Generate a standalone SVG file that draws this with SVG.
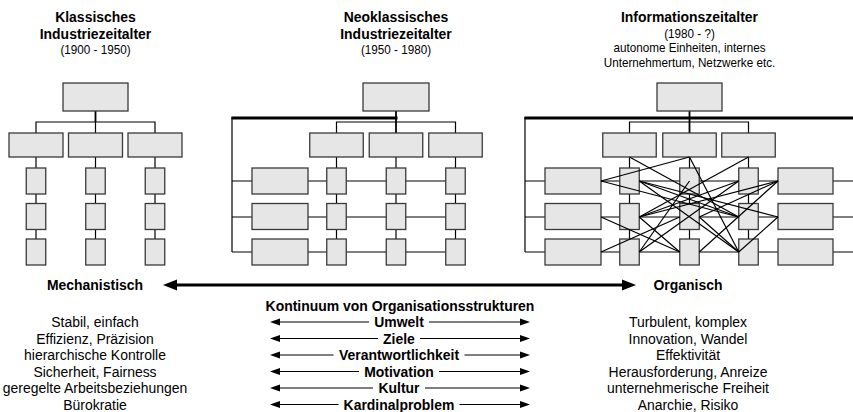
<svg xmlns="http://www.w3.org/2000/svg" width="853" height="412" viewBox="0 0 853 412">
  <style>
    .bx { fill: #e6e6e6; stroke: #3a3a3a; stroke-width: 1.3; }
    .ln { fill: none; stroke: #000; stroke-width: 1.2; }
    .mid { stroke-width: 1.8; }
    .thk { stroke-width: 3; }
    .t { font-family: "Liberation Sans", Arial, sans-serif; text-anchor: middle; fill: #000; }
    .b { font-weight: bold; font-size: 15.5px; }
    .r { font-size: 15.5px; }
    .s { font-size: 13px; }
    .ah { fill: #000; }
  </style>

  <!-- orthogonal connectors (drawn beneath the boxes) -->
  <g id="connectors">
    <!-- classic hierarchy -->
    <path class="ln mid" d="M95.5,111 V122"/>
    <path class="ln" d="M36,133 V122 H155 V133 M95.5,122 V133"/>
    <path class="ln" d="M36,157 V239 M95.5,157 V239 M155,157 V239"/>
    <!-- neoclassic matrix -->
    <path class="ln thk" d="M231.5,118 H397.5"/>
    <path class="ln" d="M232,117 V252"/>
    <path class="ln mid" d="M396,111 V133"/>
    <path class="ln" d="M336.5,133 V122 H455.5 V133"/>
    <path class="ln" d="M336.5,157 V252 M396,157 V252 M455.5,157 V252"/>
    <path class="ln" d="M232,181 H455.5 M232,217 H455.5 M232,252 H455.5"/>
    <!-- network organisation -->
    <path class="ln thk" d="M524.5,118 H853"/>
    <path class="ln" d="M525,117 V252"/>
    <path class="ln mid" d="M689.5,111 V133"/>
    <path class="ln" d="M629.5,133 V122 H748.5 V133"/>
    <path class="ln" d="M629.5,157 V252 M689.5,157 V252 M748.5,157 V252"/>
    <path class="ln" d="M525,181 H853 M525,217 H853 M525,252 H853"/>
  </g>

  <!-- classic hierarchy nodes -->
  <g id="k-top"><rect class="bx" x="63" y="83" width="65" height="28"/></g>
  <g id="k-m1"><rect class="bx" x="9" y="133" width="54" height="24"/></g>
  <g id="k-m2"><rect class="bx" x="68.5" y="133" width="54" height="24"/></g>
  <g id="k-m3"><rect class="bx" x="128" y="133" width="54" height="24"/></g>
  <g id="k-a1"><rect class="bx" x="26.25" y="168" width="19.5" height="26"/></g>
  <g id="k-a2"><rect class="bx" x="26.25" y="203.5" width="19.5" height="26"/></g>
  <g id="k-a3"><rect class="bx" x="26.25" y="239" width="19.5" height="26"/></g>
  <g id="k-b1"><rect class="bx" x="85.75" y="168" width="19.5" height="26"/></g>
  <g id="k-b2"><rect class="bx" x="85.75" y="203.5" width="19.5" height="26"/></g>
  <g id="k-b3"><rect class="bx" x="85.75" y="239" width="19.5" height="26"/></g>
  <g id="k-c1"><rect class="bx" x="145.25" y="168" width="19.5" height="26"/></g>
  <g id="k-c2"><rect class="bx" x="145.25" y="203.5" width="19.5" height="26"/></g>
  <g id="k-c3"><rect class="bx" x="145.25" y="239" width="19.5" height="26"/></g>

  <!-- neoclassic matrix nodes -->
  <g id="n-top"><rect class="bx" x="363" y="83" width="66" height="28"/></g>
  <g id="n-m1"><rect class="bx" x="309.75" y="133" width="53.5" height="24"/></g>
  <g id="n-m2"><rect class="bx" x="369.25" y="133" width="53.5" height="24"/></g>
  <g id="n-m3"><rect class="bx" x="428.75" y="133" width="53.5" height="24"/></g>
  <g id="n-w1"><rect class="bx" x="252" y="168" width="56" height="26"/></g>
  <g id="n-w2"><rect class="bx" x="252" y="203.5" width="56" height="26"/></g>
  <g id="n-w3"><rect class="bx" x="252" y="239" width="56" height="26"/></g>
  <g id="n-a1"><rect class="bx" x="326.75" y="168" width="19.5" height="26"/></g>
  <g id="n-a2"><rect class="bx" x="326.75" y="203.5" width="19.5" height="26"/></g>
  <g id="n-a3"><rect class="bx" x="326.75" y="239" width="19.5" height="26"/></g>
  <g id="n-b1"><rect class="bx" x="386.25" y="168" width="19.5" height="26"/></g>
  <g id="n-b2"><rect class="bx" x="386.25" y="203.5" width="19.5" height="26"/></g>
  <g id="n-b3"><rect class="bx" x="386.25" y="239" width="19.5" height="26"/></g>
  <g id="n-c1"><rect class="bx" x="445.75" y="168" width="19.5" height="26"/></g>
  <g id="n-c2"><rect class="bx" x="445.75" y="203.5" width="19.5" height="26"/></g>
  <g id="n-c3"><rect class="bx" x="445.75" y="239" width="19.5" height="26"/></g>

  <!-- network organisation nodes -->
  <g id="i-top"><rect class="bx" x="657" y="83" width="65" height="28"/></g>
  <g id="i-m1"><rect class="bx" x="602.75" y="133" width="53.5" height="24"/></g>
  <g id="i-m2"><rect class="bx" x="662.75" y="133" width="53.5" height="24"/></g>
  <g id="i-m3"><rect class="bx" x="721.75" y="133" width="53.5" height="24"/></g>
  <g id="i-wl1"><rect class="bx" x="545" y="168" width="56" height="26"/></g>
  <g id="i-wl2"><rect class="bx" x="545" y="203.5" width="56" height="26"/></g>
  <g id="i-wl3"><rect class="bx" x="545" y="239" width="56" height="26"/></g>
  <g id="i-a1"><rect class="bx" x="619.75" y="168" width="19.5" height="26"/></g>
  <g id="i-a2"><rect class="bx" x="619.75" y="203.5" width="19.5" height="26"/></g>
  <g id="i-a3"><rect class="bx" x="619.75" y="239" width="19.5" height="26"/></g>
  <g id="i-b1"><rect class="bx" x="679.75" y="168" width="19.5" height="26"/></g>
  <g id="i-b2"><rect class="bx" x="679.75" y="203.5" width="19.5" height="26"/></g>
  <g id="i-b3"><rect class="bx" x="679.75" y="239" width="19.5" height="26"/></g>
  <g id="i-c1"><rect class="bx" x="738.75" y="168" width="19.5" height="26"/></g>
  <g id="i-c2"><rect class="bx" x="738.75" y="203.5" width="19.5" height="26"/></g>
  <g id="i-c3"><rect class="bx" x="738.75" y="239" width="19.5" height="26"/></g>
  <g id="i-wr1"><rect class="bx" x="778" y="168" width="55" height="26"/></g>
  <g id="i-wr2"><rect class="bx" x="778" y="203.5" width="55" height="26"/></g>
  <g id="i-wr3"><rect class="bx" x="778" y="239" width="55" height="26"/></g>

  <!-- cross links of the network, drawn over the boxes -->
  <g id="connectors-network" class="ln" stroke-width="1.1">
    <path d="M601,181 L689.5,157"/>
    <path d="M629.5,157 L738.75,217"/>
    <path d="M689.5,157 L738.75,252"/>
    <path d="M748.5,157 L639.25,217"/>
    <path d="M601,181 L738.75,217"/>
    <path d="M639.25,181 L738.75,217"/>
    <path d="M639.25,181 L738.75,252"/>
    <path d="M639.25,181 L778,217"/>
    <path d="M639.25,217 L778,181"/>
    <path d="M639.25,217 L738.75,181"/>
    <path d="M639.25,217 L679.75,252"/>
    <path d="M601,217 L679.75,252"/>
    <path d="M601,252 L679.75,217"/>
    <path d="M639.25,252 L738.75,181"/>
    <path d="M639.25,252 L689.5,181"/>
    <path d="M699.25,252 L778,181"/>
    <path d="M699.25,217 L778,181"/>
    <path d="M699.25,217 L738.75,252"/>
    <path d="M738.75,252 L778,217"/>
  </g>

  <!-- era headings (horizontally condensed lettering) -->
  <g id="head-klassisch" transform="scale(0.9 1)">
    <text class="t b" x="106.11" y="22">Klassisches</text>
    <text class="t b" x="106.11" y="39">Industriezeitalter</text>
    <text class="t s" x="106.11" y="54">(1900 - 1950)</text>
  </g>
  <g id="head-neoklassisch" transform="scale(0.9 1)">
    <text class="t b" x="440" y="22">Neoklassisches</text>
    <text class="t b" x="440" y="39">Industriezeitalter</text>
    <text class="t s" x="440" y="54">(1950 - 1980)</text>
  </g>
  <g id="head-information" transform="scale(0.9 1)">
    <text class="t b" x="766.11" y="22">Informationszeitalter</text>
    <text class="t s" x="766.11" y="38">(1980 - ?)</text>
    <text class="t s" x="766.11" y="52.5">autonome Einheiten, internes</text>
    <text class="t s" x="766.11" y="67">Unternehmertum, Netzwerke etc.</text>
  </g>

  <!-- continuum axis -->
  <g id="axis">
    <path class="ln thk" d="M175,285 H624"/>
    <polygon class="ah" points="163,285 177,279.5 177,290.5"/>
    <polygon class="ah" points="636,285 622,279.5 622,290.5"/>
    <g transform="scale(0.9 1)">
      <text class="t b" x="105.56" y="290.5">Mechanistisch</text>
      <text class="t b" x="764.44" y="290.5">Organisch</text>
      <text class="t b" x="444.44" y="311">Kontinuum von Organisationsstrukturen</text>
    </g>
  </g>

  <!-- dimension arrows -->
  <g id="dimensions">
    <g class="ln">
      <path d="M278,322 H369 M429,322 H522"/>
      <path d="M278,338.5 H378 M420,338.5 H522"/>
      <path d="M278,355 H333.5 M464.5,355 H522"/>
      <path d="M278,371.5 H359 M439,371.5 H522"/>
      <path d="M278,388 H373 M425,388 H522"/>
      <path d="M278,404.5 H338.5 M459.5,404.5 H522"/>
    </g>
    <polygon class="ah" points="270,322 280,318.5 280,325.5"/>
    <polygon class="ah" points="530,322 520,318.5 520,325.5"/>
    <polygon class="ah" points="270,338.5 280,335 280,342"/>
    <polygon class="ah" points="530,338.5 520,335 520,342"/>
    <polygon class="ah" points="270,355 280,351.5 280,358.5"/>
    <polygon class="ah" points="530,355 520,351.5 520,358.5"/>
    <polygon class="ah" points="270,371.5 280,368 280,375"/>
    <polygon class="ah" points="530,371.5 520,368 520,375"/>
    <polygon class="ah" points="270,388 280,384.5 280,391.5"/>
    <polygon class="ah" points="530,388 520,384.5 520,391.5"/>
    <polygon class="ah" points="270,404.5 280,401 280,408"/>
    <polygon class="ah" points="530,404.5 520,401 520,408"/>
    <g transform="scale(0.9 1)">
      <text class="t b" x="443.33" y="327.5">Umwelt</text>
      <text class="t b" x="443.33" y="344">Ziele</text>
      <text class="t b" x="443.33" y="360.5">Verantwortlichkeit</text>
      <text class="t b" x="443.33" y="377">Motivation</text>
      <text class="t b" x="443.33" y="393.5">Kultur</text>
      <text class="t b" x="443.33" y="410">Kardinalproblem</text>
    </g>
  </g>

  <!-- mechanistic characteristics -->
  <g id="list-mechanistisch" transform="scale(0.9 1)">
    <text class="t r" x="105.56" y="327.5">Stabil, einfach</text>
    <text class="t r" x="105.56" y="344">Effizienz, Präzision</text>
    <text class="t r" x="105.56" y="360.5">hierarchische Kontrolle</text>
    <text class="t r" x="105.56" y="377">Sicherheit, Fairness</text>
    <text class="t r" x="105.56" y="393.5">geregelte Arbeitsbeziehungen</text>
    <text class="t r" x="105.56" y="410">Bürokratie</text>
  </g>

  <!-- organic characteristics -->
  <g id="list-organisch" transform="scale(0.9 1)">
    <text class="t r" x="764.44" y="327.5">Turbulent, komplex</text>
    <text class="t r" x="764.44" y="344">Innovation, Wandel</text>
    <text class="t r" x="764.44" y="360.5">Effektivität</text>
    <text class="t r" x="764.44" y="377">Herausforderung, Anreize</text>
    <text class="t r" x="764.44" y="393.5">unternehmerische Freiheit</text>
    <text class="t r" x="764.44" y="410">Anarchie, Risiko</text>
  </g>
</svg>
